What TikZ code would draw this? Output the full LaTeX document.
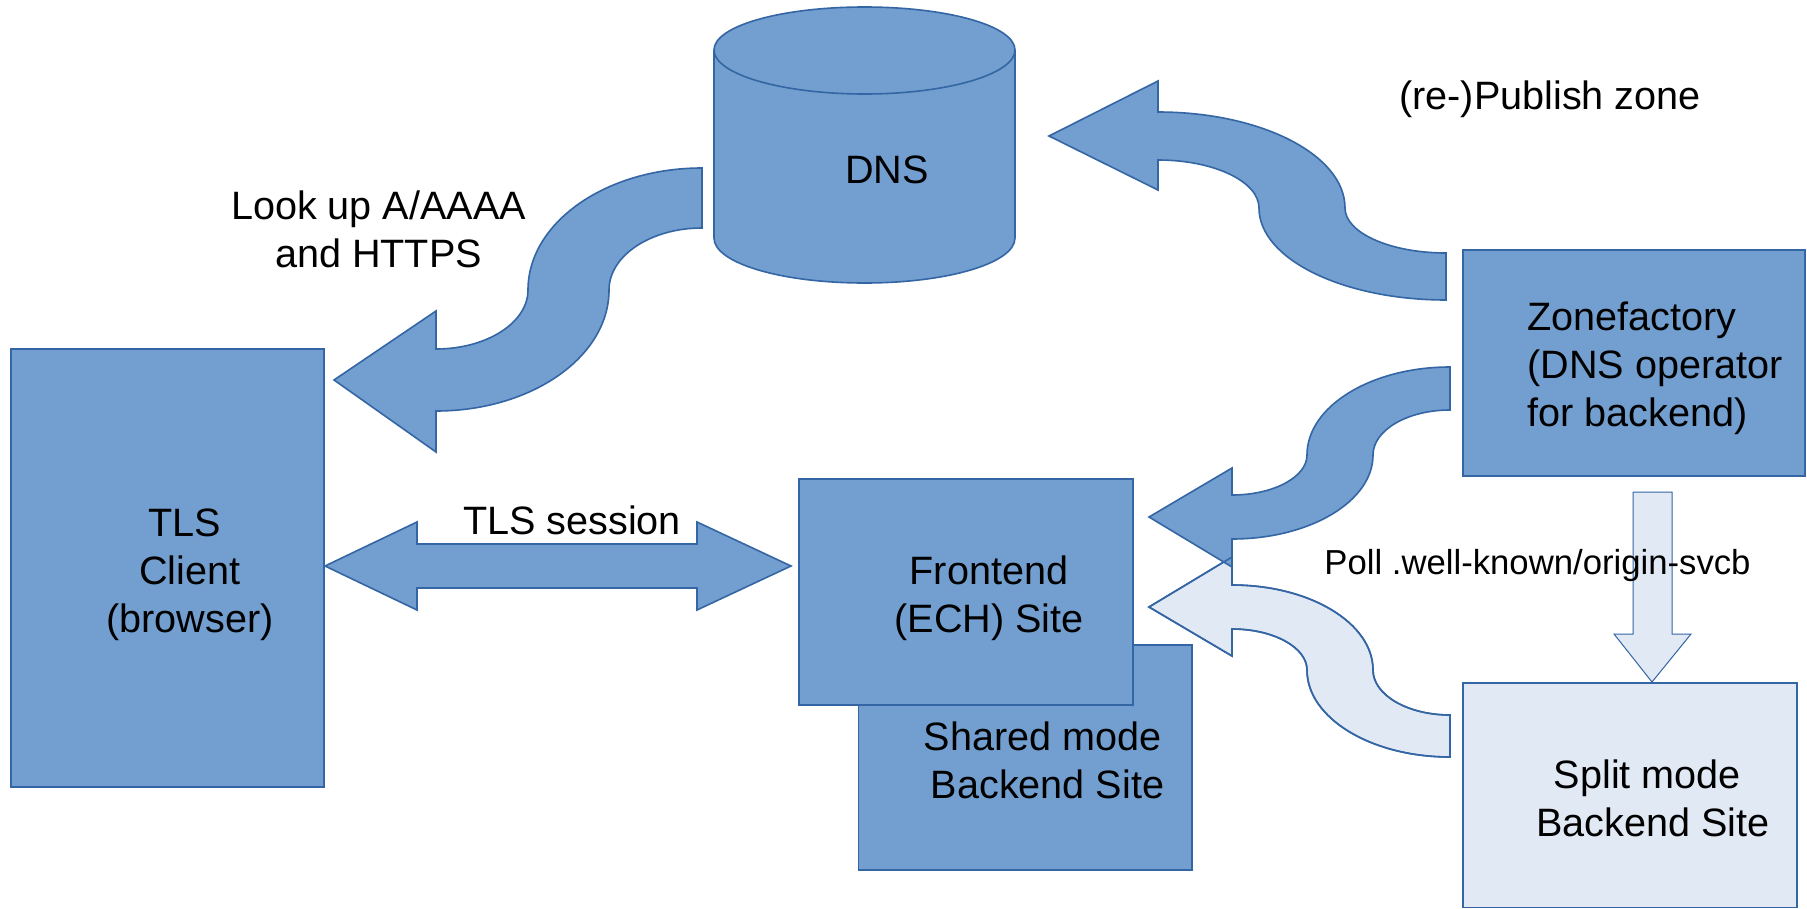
\documentclass[tikz,border=0pt]{standalone}
\usepackage{fontspec}
\setmainfont{Liberation Sans}
\definecolor{midblue}{HTML}{729FCF}
\definecolor{paleblue}{HTML}{E1E9F5}
\definecolor{edgeblue}{HTML}{3465A4}
\newcommand{\hv}[4]{.. controls ({#1+.5523*(#3-#1)},#2) and (#3,{#4-.5523*(#4-#2)}) .. (#3,#4)}
\newcommand{\vh}[4]{.. controls (#1,{#2+.5523*(#4-#2)}) and ({#3-.5523*(#3-#1)},#4) .. (#3,#4)}
\newcommand{\palepath}{(1450,715) \hv{1450}{715}{1373}{670} \vh{1373}{670}{1232}{585} -- (1232,557) -- (1149,607) -- (1232,656) -- (1232,629) \hv{1232}{629}{1307}{670} \vh{1307}{670}{1450}{757} -- cycle}
\tikzset{
  shapeline/.style={draw=edgeblue,line width=1.6pt,line join=miter},
  midshape/.style={shapeline,fill=midblue},
  paleshape/.style={shapeline,fill=paleblue},
  sitebox/.style={rectangle,inner sep=0pt,outer sep=0pt},
  label42/.style={inner sep=0pt,outer sep=0pt,text=black,font=\fontsize{39.6}{47.8}\selectfont},
  label33/.style={inner sep=0pt,outer sep=0pt,text=black,font=\fontsize{34.7}{38}\selectfont}
}
\begin{document}
\begin{tikzpicture}[x=1pt,y=-1pt]
\useasboundingbox (0,0) rectangle (1807,908);
\fill[white] (0,0) rectangle (1807,908);
% DNS cylinder
\draw[midshape] (714,50) -- (714,238) .. controls (714,263) and (781,283) .. (864.5,283) .. controls (948,283) and (1015,263) .. (1015,238) -- (1015,50) .. controls (1015,26) and (948,7) .. (864.5,7) .. controls (781,7) and (714,26) .. (714,50) -- cycle;
\draw[shapeline] (714,50) .. controls (714,74) and (781,94) .. (864.5,94) .. controls (948,94) and (1015,74) .. (1015,50);
% boxes
\node[sitebox,midshape,minimum width=313pt,minimum height=438pt] (tlsbox) at (167.5,568) {};
\node[sitebox,midshape,minimum width=333.5pt,minimum height=225pt] (sharedbox) at (1025.25,757.5) {};
\node[sitebox,midshape,minimum width=334pt,minimum height=226pt] (frontbox) at (966,592) {};
\node[sitebox,midshape,minimum width=342pt,minimum height=226pt] (zonebox) at (1634,363) {};
\node[sitebox,paleshape,minimum width=334pt,minimum height=224.5pt] (splitbox) at (1630,795.25) {};
% block arrows
\draw[midshape] (702,168) \hv{702}{168}{528}{290} \vh{528}{290}{436}{349} -- (436,311) -- (334,380) -- (436,452) -- (436,411) \hv{436}{411}{609}{290} \vh{609}{290}{702}{228} -- cycle;
\draw[midshape] (1446,253) \hv{1446}{253}{1345}{208} \vh{1345}{208}{1158}{112} -- (1158,81) -- (1049,136) -- (1158,190) -- (1158,160) \hv{1158}{160}{1259}{208} \vh{1259}{208}{1446}{300} -- cycle;
\draw[paleshape] \palepath;
\draw[midshape] (1450,367) \hv{1450}{367}{1307}{455} \vh{1307}{455}{1232}{495} -- (1232,468) -- (1149,517) -- (1232,567) -- (1232,539) \hv{1232}{539}{1373}{455} \vh{1373}{455}{1450}{410} -- cycle;
\draw[shapeline] \palepath;
\draw[midshape] (325,566) -- (417,522) -- (417,544) -- (697,544) -- (697,522) -- (791,566) -- (697,610) -- (697,588) -- (417,588) -- (417,610) -- cycle;
\draw[paleshape,line width=1pt] (1633,492) -- (1672,492) -- (1672,634) -- (1691,634) -- (1652,682) -- (1614,634) -- (1633,634) -- cycle;
% labels
\node[label42] (dnstext) at (887,170) {DNS};
\node[label42,align=center] (lookup) at (378.5,229.5) {Look up A/AAAA\\and HTTPS};
\node[label42] (publish) at (1550,99.5) {(re-)Publish zone};
\node[label42] (session) at (572,520) {TLS session};
\node[label42,align=center] (tlstext) at (190,575) {\hspace*{-11pt}TLS\\Client\\(browser)};
\node[label42,align=center] (fronttext) at (989,598) {Frontend\\(ECH) Site};
\node[label42,align=center] (sharedtext) at (1047.5,760.5) {\hspace*{-10pt}Shared mode\\Backend Site};
\node[label42,align=left] (zonetext) at (1655,368.5) {Zonefactory\\(DNS operator\\for backend)};
\node[label42,align=center] (splittext) at (1653,798.5) {\hspace*{-11pt}Split mode\\Backend Site};
\node[label33] (polltext) at (1537.5,566) {Poll .well-known/origin-svcb};
\end{tikzpicture}
\end{document}
